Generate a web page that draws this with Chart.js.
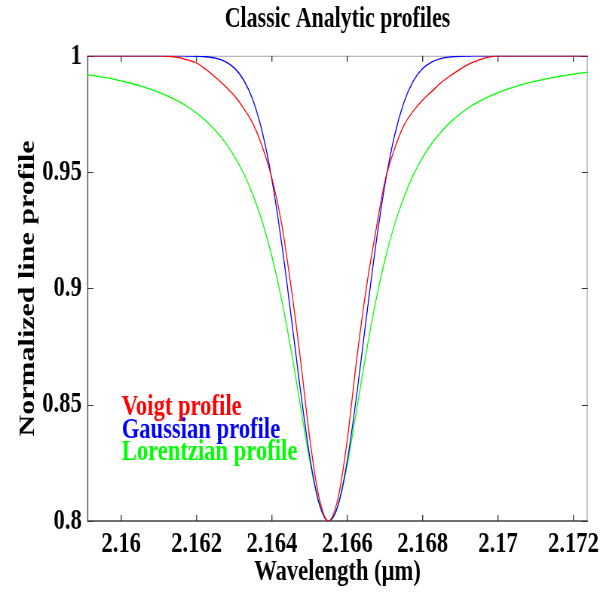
<!DOCTYPE html>
<html>
<head>
<meta charset="utf-8">
<script src="https://cdn.jsdelivr.net/npm/chart.js@4"></script>
<style>
  html, body { margin: 0; padding: 0; background: #ffffff; }
  #c { display: block; width: 603px; height: 594px; }
</style>
</head>
<body>
<canvas id="c" width="800" height="594" style="width:603px;height:594px"></canvas>
<script>
// ---- data ----
const wavelengths = [2.159, 2.15925, 2.1595, 2.15975, 2.16, 2.16025, 2.1605, 2.16075, 2.161, 2.16125,
  2.1615, 2.16175, 2.162, 2.16225, 2.1625, 2.16275, 2.163, 2.16325, 2.1635, 2.16375,
  2.164, 2.16425, 2.1645, 2.16475, 2.165, 2.16525, 2.1655, 2.16575, 2.166, 2.16625,
  2.1665, 2.16675, 2.167, 2.16725, 2.1675, 2.16775, 2.168, 2.16825, 2.1685, 2.16875,
  2.169, 2.16925, 2.1695, 2.16975, 2.17, 2.17025, 2.1705, 2.17075, 2.171, 2.17125,
  2.1715, 2.17175, 2.172, 2.17225, 2.1725];

const voigtProfile = [1, 1, 1, 1, 1, 1, 1, 1, 1, 0.9998,
  0.9993, 0.9982, 0.9969, 0.9941, 0.9908, 0.9871, 0.9829, 0.9774, 0.9707, 0.9607,
  0.9473, 0.9285, 0.9016, 0.8705, 0.8360, 0.8101, 0.8000, 0.8095, 0.8350, 0.8696,
  0.8997, 0.9240, 0.9461, 0.9598, 0.9700, 0.9762, 0.9810, 0.9848, 0.9886, 0.9916,
  0.9943, 0.9966, 0.9982, 0.9994, 1, 1, 1, 1, 1, 1,
  1, 1, 1, 1, 1];

const gaussianProfile = [1, 1, 1, 1, 1, 1, 1, 1, 1, 1,
  1, 0.9999, 0.9998, 0.9996, 0.9990, 0.9976, 0.9948, 0.9896, 0.9808, 0.9668,
  0.9467, 0.9203, 0.8893, 0.8570, 0.8280, 0.8077, 0.8000, 0.8065, 0.8259, 0.8543,
  0.8866, 0.9179, 0.9447, 0.9654, 0.9798, 0.9891, 0.9945, 0.9974, 0.9989, 0.9995,
  0.9998, 0.9999, 1, 1, 1, 1, 1, 1, 1, 1,
  1, 1, 1, 1, 1];

const lorentzianProfile = [0.9921, 0.9915, 0.9908, 0.9901, 0.9892, 0.9882, 0.9871, 0.9858, 0.9843, 0.9826,
  0.9806, 0.9782, 0.9754, 0.9720, 0.9679, 0.9630, 0.9569, 0.9494, 0.9400, 0.9283,
  0.9137, 0.8957, 0.8742, 0.8501, 0.8262, 0.8075, 0.8000, 0.8064, 0.8243, 0.8480,
  0.8722, 0.8940, 0.9123, 0.9272, 0.9391, 0.9487, 0.9563, 0.9625, 0.9675, 0.9717,
  0.9751, 0.9780, 0.9804, 0.9824, 0.9842, 0.9857, 0.9870, 0.9881, 0.9891, 0.9900,
  0.9908, 0.9915, 0.9921, 0.9927, 0.9932];

const seriesLabels = ['Voigt profile', 'Gaussian profile', 'Lorentzian profile'];
const seriesColors = ['#ff0000', '#0000ff', '#00ff00'];

const xTicks = [2.16, 2.162, 2.164, 2.166, 2.168, 2.17, 2.172];
const xTickLabels = ['2.16', '2.162', '2.164', '2.166', '2.168', '2.17', '2.172'];
const yTicks = [0.8, 0.85, 0.9, 0.95, 1];
const yTickLabels = ['0.8', '0.85', '0.9', '0.95', '1'];

const xRange = [2.1591, 2.17238];
const yRange = [0.8, 1];

// ---- chart ----
const FONT = "'Liberation Serif', 'Times New Roman', serif";
Chart.defaults.font.family = FONT;
Chart.defaults.color = '#000000';

const SX = 800 / 603; // canvas px per displayed px horizontally

function toPoints(arr) { return wavelengths.map((x, i) => ({ x: x, y: arr[i] })); }

const profiles = [voigtProfile, gaussianProfile, lorentzianProfile];

const boxPlugin = {
  id: 'boxTicks',
  beforeDatasetsDraw(chart) {
    const { ctx, chartArea: { left, right, top, bottom }, scales: { x, y } } = chart;
    ctx.save();
    // top and right: light
    ctx.strokeStyle = '#a8a8a8';
    ctx.lineWidth = 1;
    ctx.beginPath(); ctx.moveTo(left, top + 0.5); ctx.lineTo(right, top + 0.5); ctx.stroke();
    ctx.lineWidth = SX;
    ctx.beginPath(); ctx.moveTo(right - SX / 2, top); ctx.lineTo(right - SX / 2, bottom); ctx.stroke();
    // bottom and left: dark
    ctx.strokeStyle = '#404040';
    ctx.lineWidth = 1.3;
    ctx.beginPath(); ctx.moveTo(left, bottom); ctx.lineTo(right, bottom); ctx.stroke();
    ctx.lineWidth = SX;
    ctx.beginPath(); ctx.moveTo(left + SX / 2, top); ctx.lineTo(left + SX / 2, bottom); ctx.stroke();
    // inward ticks
    ctx.strokeStyle = '#333333';
    ctx.lineWidth = SX;
    x.ticks.forEach(t => {
      const px = x.getPixelForValue(t.value);
      ctx.beginPath(); ctx.moveTo(px, bottom); ctx.lineTo(px, bottom - 6); ctx.stroke();
      ctx.beginPath(); ctx.moveTo(px, top); ctx.lineTo(px, top + 6); ctx.stroke();
    });
    ctx.lineWidth = 1;
    y.ticks.forEach(t => {
      const py = Math.round(y.getPixelForValue(t.value)) + 0.5;
      ctx.beginPath(); ctx.moveTo(left, py); ctx.lineTo(left + 6 * SX, py); ctx.stroke();
      ctx.beginPath(); ctx.moveTo(right, py); ctx.lineTo(right - 6 * SX, py); ctx.stroke();
    });
    ctx.restore();
  }
};

const legendPlugin = {
  id: 'textLegend',
  afterDraw(chart) {
    const { ctx, chartArea: { left } } = chart;
    ctx.save();
    ctx.font = 'bold 30px ' + FONT;
    ctx.textAlign = 'left';
    ctx.textBaseline = 'alphabetic';
    chart.data.datasets.forEach((ds, i) => {
      ctx.fillStyle = ds.borderColor;
      ctx.fillText(ds.label, left + 45.6, 415 + i * 22.5);
    });
    ctx.restore();
  }
};

new Chart(document.getElementById('c'), {
  type: 'line',
  data: {
    datasets: profiles.map((arr, i) => ({
      label: seriesLabels[i],
      data: toPoints(arr),
      borderColor: seriesColors[i],
      backgroundColor: seriesColors[i],
      borderWidth: 1.3,
      pointRadius: 0,
      pointHoverRadius: 0,
      fill: false,
      cubicInterpolationMode: 'monotone'
    }))
  },
  options: {
    responsive: false,
    animation: false,
    devicePixelRatio: 1,
    events: [],
    layout: { padding: { left: 0, right: 15, top: 0, bottom: 0 } },
    plugins: {
      legend: { display: false },
      tooltip: { enabled: false },
      title: {
        display: true,
        text: 'Classic Analytic profiles',
        fullSize: false,
        font: { size: 29, weight: 'bold', family: FONT },
        color: '#000000',
        padding: { top: 2, bottom: 19 }
      }
    },
    scales: {
      x: {
        type: 'linear',
        min: xRange[0],
        max: xRange[1],
        grid: { display: false, drawTicks: false, tickLength: 0 },
        border: { display: false },
        afterBuildTicks: s => { s.ticks = xTicks.map(v => ({ value: v })); },
        afterFit: s => { s.height = 73; },
        ticks: {
          autoSkip: false,
          maxRotation: 0,
          padding: 5,
          color: '#000000',
          font: { size: 30, weight: 'bold', family: FONT },
          callback: v => xTickLabels[xTicks.indexOf(v)]
        },
        title: {
          display: true,
          text: 'Wavelength (μm)',
          color: '#000000',
          font: { size: 30, weight: 'bold', family: FONT },
          padding: { top: 0, bottom: 4 }
        }
      },
      y: {
        type: 'linear',
        min: yRange[0],
        max: yRange[1],
        grid: { display: false, drawTicks: false, tickLength: 0 },
        border: { display: false },
        afterBuildTicks: s => { s.ticks = yTicks.map(v => ({ value: v })); },
        afterFit: s => { s.width = 115.8; },
        ticks: {
          autoSkip: false,
          padding: 7.4,
          color: '#000000',
          font: { size: 30, weight: 'bold', family: FONT },
          callback: v => yTickLabels[yTicks.indexOf(v)]
        },
        title: {
          display: true,
          text: 'Normalized line profile',
          color: '#000000',
          font: { size: 30, weight: 'bold', family: FONT },
          padding: { top: 19, bottom: 0 }
        }
      }
    }
  },
  plugins: [boxPlugin, legendPlugin]
});
</script>
</body>
</html>
